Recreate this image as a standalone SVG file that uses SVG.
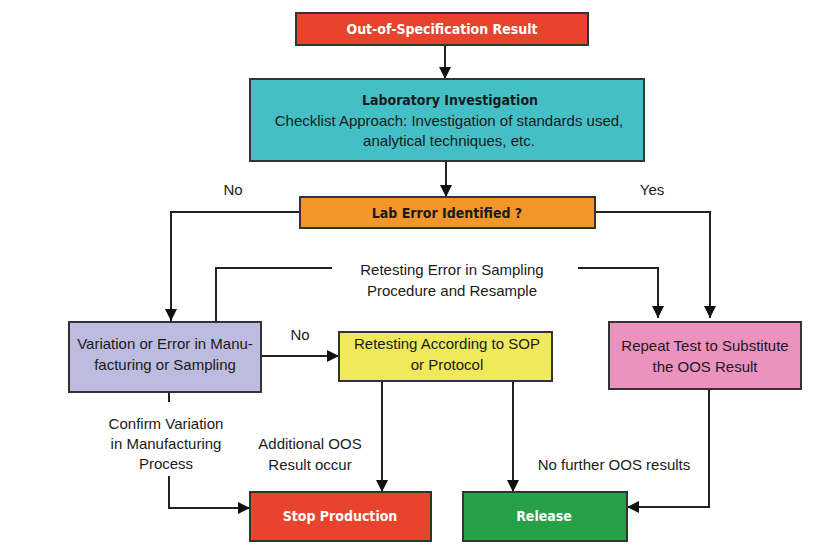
<svg xmlns="http://www.w3.org/2000/svg" width="825" height="560" viewBox="0 0 825 560">
<defs>
<marker id="ah" viewBox="0 0 12 12" markerWidth="12" markerHeight="12" refX="12" refY="6" orient="auto" markerUnits="userSpaceOnUse">
<path d="M0,0 L12,6 L0,12 Z" fill="#111"/>
</marker>
<style>
.box{stroke:#333;stroke-width:2}
.t{font-family:"Liberation Sans",Arial,sans-serif;font-size:15px;fill:#1a1a1a;text-anchor:middle}
.b{font-family:"DejaVu Sans Condensed","Liberation Sans",Arial,sans-serif;font-weight:bold;font-size:14px;text-anchor:middle}
.w{fill:#ffffff}
.k{fill:#1a1a1a}
.c{fill:none;stroke:#222;stroke-width:2}
.ca{fill:none;stroke:#222;stroke-width:2;marker-end:url(#ah)}
</style>
</defs>
<rect width="825" height="560" fill="#ffffff"/>
<g id="connectors">
<line class="ca" x1="445" y1="45" x2="445" y2="79"/>
<line class="ca" x1="446" y1="161" x2="446" y2="197"/>
<polyline class="ca" points="300,212 171,212 171,321"/>
<polyline class="ca" points="595,212 710,212 710,318"/>
<polyline class="c" points="216,321 216,268 332,268"/>
<polyline class="ca" points="578,268 658,268 658,318"/>
<line class="ca" x1="261" y1="356" x2="339" y2="356"/>
<line class="c" x1="169" y1="392" x2="169" y2="402"/>
<polyline class="ca" points="169,476 169,508 250,508"/>
<line class="ca" x1="382" y1="381" x2="382" y2="492"/>
<line class="ca" x1="513" y1="381" x2="513" y2="492"/>
<polyline class="ca" points="709,389 709,507 627,507"/>
<text class="t" x="233" y="195">No</text>
<text class="t" x="652" y="195">Yes</text>
<text class="t" x="452" y="275">Retesting Error in Sampling</text>
<text class="t" x="452" y="296">Procedure and Resample</text>
<text class="t" x="300" y="340">No</text>
<text class="t" x="166" y="429">Confirm Variation</text>
<text class="t" x="166" y="449">in Manufacturing</text>
<text class="t" x="166" y="469">Process</text>
<text class="t" x="310" y="449">Additional OOS</text>
<text class="t" x="310" y="470">Result occur</text>
<text class="t" x="614" y="470">No further OOS results</text>
</g>
<g id="oos">
<rect class="box" x="296" y="13" width="292" height="32" fill="#E8432D"/>
<text class="b w" x="442" y="34">Out-of-Specification Result</text>
</g>
<g id="labinv">
<rect class="box" x="250" y="79" width="394" height="82" fill="#45BFC6"/>
<text class="b k" x="450" y="105">Laboratory Investigation</text>
<text class="t" x="449" y="126">Checklist Approach: Investigation of standards used,</text>
<text class="t" x="449" y="146">analytical techniques, etc.</text>
</g>
<g id="laberror">
<rect class="box" x="300" y="197" width="295" height="31" fill="#F5962A"/>
<text class="b k" x="447" y="218">Lab Error Identified ?</text>
</g>
<g id="variation">
<rect class="box" x="69" y="322" width="192" height="70" fill="#BDBBE0"/>
<text class="t" x="165" y="349">Variation or Error in Manu-</text>
<text class="t" x="165" y="370">facturing or Sampling</text>
</g>
<g id="retest">
<rect class="box" x="339" y="332" width="213" height="49" fill="#EFEA5A"/>
<text class="t" x="447" y="349">Retesting According to SOP</text>
<text class="t" x="447" y="370">or Protocol</text>
</g>
<g id="repeat">
<rect class="box" x="609" y="322" width="192" height="67" fill="#EC92BF"/>
<text class="t" x="705" y="351">Repeat Test to Substitute</text>
<text class="t" x="705" y="372">the OOS Result</text>
</g>
<g id="stop">
<rect class="box" x="250" y="492" width="181" height="49" fill="#E8432D"/>
<text class="b w" x="340" y="521">Stop Production</text>
</g>
<g id="release">
<rect class="box" x="463" y="492" width="164" height="49" fill="#27A048"/>
<text class="b w" x="544" y="521">Release</text>
</g>
</svg>
